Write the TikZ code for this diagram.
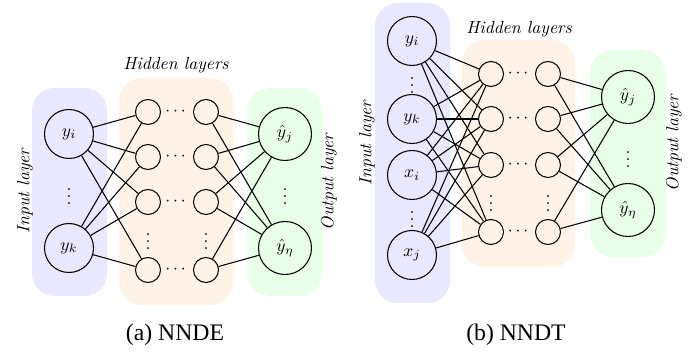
\documentclass[tikz,border=0pt]{standalone}
\usepackage{amsmath, amssymb}
\usepackage{fontspec}
\newfontfamily\capfont{Liberation Serif}
\usepackage{tikz}
\usetikzlibrary{calc, positioning}
\usepackage{xcolor}
\definecolor{inLayer}{RGB}{232, 232, 255}
\definecolor{hidLayer}{RGB}{255, 243, 232}
\definecolor{outLayer}{RGB}{232, 255, 232}

\begin{document}
\begin{tikzpicture}[
    neuron/.style={draw, circle, line width=0.6pt, inner sep=0pt, minimum size=0.98cm},
    outneuron/.style={neuron, minimum size=1.06cm},
    hidneuron/.style={draw, circle, line width=0.6pt, inner sep=0pt, minimum size=0.5cm},
    dots/.style={inner sep=0pt},
    layerbox/.style={rounded corners=0.45cm},
    link/.style={line width=0.6pt},
    layername/.style={font=\itshape},
    caption/.style={font=\capfont\fontsize{13.5}{15}\selectfont}
  ]
  \useasboundingbox (0,0) rectangle (14,7.08);

  % ---------- (a) NNDE ----------
  \fill[inLayer, layerbox] (0.64,1.16) rectangle (2.14,5.32);
  \fill[hidLayer, layerbox] (2.38,0.98) rectangle (4.66,5.52);
  \fill[outLayer, layerbox] (4.94,1.16) rectangle (6.44,5.32);

  \node[neuron] (ai1) at (1.38,4.40) {$y_i$};
  \node[neuron] (ai2) at (1.38,2.12) {$y_k$};
  \node[dots] (aidots) at (1.38,3.26) {$\vdots$};

  \node[hidneuron] (ah1) at (2.96,4.84) {};
  \node[hidneuron] (ah2) at (2.96,3.94) {};
  \node[hidneuron] (ah3) at (2.96,3.04) {};
  \node[hidneuron] (ah4) at (2.96,1.68) {};
  \node[dots] (ahdots) at (2.96,2.36) {$\vdots$};
  \node[hidneuron] (ag1) at (4.12,4.84) {};
  \node[hidneuron] (ag2) at (4.12,3.94) {};
  \node[hidneuron] (ag3) at (4.12,3.04) {};
  \node[hidneuron] (ag4) at (4.12,1.68) {};
  \node[dots] (agdots) at (4.12,2.36) {$\vdots$};
  \foreach \r in {1,2,3,4}
    \node[dots] (acdots\r) at ($(ah\r)!0.5!(ag\r)$) {$\cdots$};

  \node[outneuron] (ao1) at (5.70,4.40) {$\hat{y}_j$};
  \node[outneuron] (ao2) at (5.70,2.12) {$\hat{y}_\eta$};
  \node[dots] (aodots) at (5.70,3.26) {$\vdots$};

  \foreach \i in {1,2}
    \foreach \h in {1,2,3,4} {
      \draw[link] (ai\i) -- (ah\h);
      \draw[link] (ag\h) -- (ao\i);
    }

  \node[layername] (ahname) at (3.52,5.78) {Hidden layers};
  \node[layername, rotate=90] (ainame) at (0.50,3.26) {Input layer};
  \node[layername, rotate=90] (aoname) at (6.58,3.44) {Output layer};
  \node[caption] (acap) at (3.50,0.38) {(a) NNDE};

  % ---------- (b) NNDT ----------
  \fill[inLayer, layerbox] (7.50,1.02) rectangle (9.00,7.02);
  \fill[hidLayer, layerbox] (9.24,1.74) rectangle (11.50,6.28);
  \fill[outLayer, layerbox] (11.80,1.94) rectangle (13.30,6.08);

  \node[neuron] (bi1) at (8.24,6.26) {$y_i$};
  \node[neuron] (bi2) at (8.24,4.70) {$y_k$};
  \node[neuron] (bi3) at (8.24,3.58) {$x_i$};
  \node[neuron] (bi4) at (8.24,1.98) {$x_j$};
  \node[dots] (bidots1) at (8.24,5.48) {$\vdots$};
  \node[dots] (bidots2) at (8.24,2.80) {$\vdots$};

  \node[hidneuron] (bh1) at (9.82,5.60) {};
  \node[hidneuron] (bh2) at (9.82,4.70) {};
  \node[hidneuron] (bh3) at (9.82,3.78) {};
  \node[hidneuron] (bh4) at (9.82,2.44) {};
  \node[dots] (bhdots) at (9.82,3.12) {$\vdots$};
  \node[hidneuron] (bg1) at (10.96,5.60) {};
  \node[hidneuron] (bg2) at (10.96,4.70) {};
  \node[hidneuron] (bg3) at (10.96,3.78) {};
  \node[hidneuron] (bg4) at (10.96,2.44) {};
  \node[dots] (bgdots) at (10.96,3.12) {$\vdots$};
  \foreach \r in {1,2,3,4}
    \node[dots] (bcdots\r) at ($(bh\r)!0.5!(bg\r)$) {$\cdots$};

  \node[outneuron] (bo1) at (12.56,5.14) {$\hat{y}_j$};
  \node[outneuron] (bo2) at (12.56,2.88) {$\hat{y}_\eta$};
  \node[dots] (bodots) at (12.56,4.00) {$\vdots$};

  \foreach \i in {1,2,3,4}
    \foreach \h in {1,2,3,4}
      \draw[link] (bi\i) -- (bh\h);
  \foreach \o in {1,2}
    \foreach \h in {1,2,3,4}
      \draw[link] (bg\h) -- (bo\o);

  \node[layername] (bhname) at (10.38,6.50) {Hidden layers};
  \node[layername, rotate=90] (biname) at (7.34,4.22) {Input layer};
  \node[layername, rotate=90] (boname) at (13.48,4.22) {Output layer};
  \node[caption] (bcap) at (10.32,0.38) {(b) NNDT};
\end{tikzpicture}
\end{document}
